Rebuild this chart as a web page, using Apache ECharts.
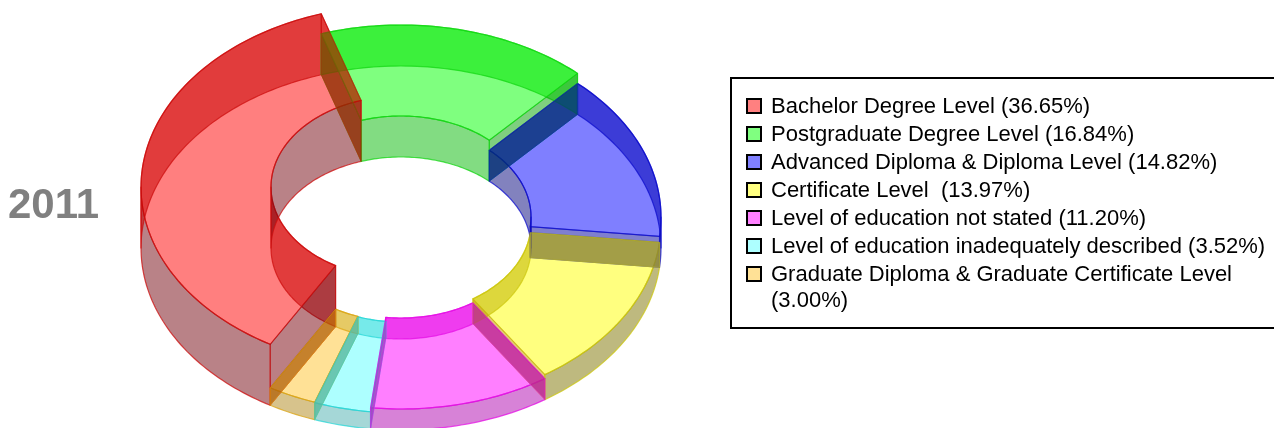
<!DOCTYPE html>
<html>
<head>
<meta charset="utf-8">
<style>html,body{margin:0;padding:0;background:#fff;overflow:hidden}#c{width:1274px;height:428px}</style>
<script src="https://cdn.jsdelivr.net/npm/echarts@6/dist/echarts.min.js"></script>
</head>
<body>
<div id="c"></div>
<script>
const yearLabel = '2011';
const categories = [
  'Bachelor Degree Level',
  'Postgraduate Degree Level',
  'Advanced Diploma & Diploma Level',
  'Certificate Level ',
  'Level of education not stated',
  'Level of education inadequately described',
  'Graduate Diploma & Graduate Certificate Level'
];
const shares = [36.65, 16.84, 14.82, 13.97, 11.20, 3.52, 3.00];

const depthPx = [61, 41, 31, 25, 21, 17, 17.5];
const faceFill = ['rgba(255,0,0,.5)','rgba(0,255,0,.5)','rgba(0,0,255,.5)','rgba(255,255,0,.5)','rgba(255,0,255,.5)','rgba(0,255,255,.32)','rgba(255,195,45,.5)'];
const swatchFill = ['#ff8080','#80ff80','#8080ff','#ffff80','#ff80ff','#adffff','#ffe196'];
const satWall = ['rgba(198,0,0,.53)','rgba(0,227,0,.53)','rgba(0,0,180,.53)','rgba(190,180,0,.53)','rgba(225,0,225,.53)','rgba(70,215,215,.53)','rgba(207,181,58,.53)'];
const dustWall = ['rgba(115,5,15,.5)','rgba(5,185,5,.5)','rgba(5,5,125,.5)','rgba(125,115,0,.5)','rgba(175,5,175,.5)','rgba(75,175,175,.5)','rgba(175,135,25,.5)'];
const sideStart = ['rgba(120,0,10,.5)','rgba(0,160,0,.5)','rgba(0,0,160,.55)','rgba(200,190,0,.5)','rgba(180,0,190,.55)','rgba(60,190,190,.5)','rgba(200,140,0,.5)'];
const sideEnd = ['rgba(200,0,0,.55)','rgba(0,160,0,.5)','rgba(0,0,160,.5)','rgba(200,140,0,.5)','rgba(190,0,190,.5)','rgba(40,200,220,.55)','rgba(210,150,0,.45)'];
const sideOrderStart = [0, 0, 0, 0, 0, -1, -1];
const sideOrderEnd = [10, 0, 0, 0, 0, 0, 0];
const edge = ['rgba(205,15,15,.75)','rgba(20,215,20,.75)','rgba(15,15,205,.75)','rgba(205,200,15,.75)','rgba(230,15,230,.75)','rgba(40,215,215,.75)','rgba(220,165,20,.75)'];
const CX = 401, CY = 248, RX = 260, RY = 182, HOLE = 0.5, START = 120.2;

const total = shares.reduce((a, b) => a + b, 0);
function range(i) {
  let s = START;
  for (let k = 0; k < i; k++) s += shares[k] / total * 360;
  return [s, s + shares[i] / total * 360];
}
function pt(deg, r, z) {
  const t = deg * Math.PI / 180;
  return [CX + RX * r * Math.cos(t), CY + RY * r * Math.sin(t) - z];
}
function arc(a0, a1, r, z) {
  const n = Math.max(2, Math.ceil(Math.abs(a1 - a0) / 1.2));
  const out = [];
  for (let k = 0; k <= n; k++) out.push(pt(a0 + (a1 - a0) * k / n, r, z));
  return out;
}
function pieces(a0, a1) {
  const cuts = [180, 360];
  const marks = [a0];
  cuts.forEach(c => { if (c > a0 && c < a1) marks.push(c); });
  marks.push(a1);
  const res = [];
  for (let k = 0; k + 1 < marks.length; k++) {
    const mid = (marks[k] + marks[k + 1]) / 2 % 360;
    res.push({ a: marks[k], b: marks[k + 1], back: mid > 180 });
  }
  return res;
}
const poly = (points, fill, stroke, w, z2) => ({
  type: 'polygon', shape: { points }, z2: z2 || 0,
  style: { fill, stroke: stroke || 'none', lineWidth: w === undefined ? 1.2 : w, lineJoin: 'round' },
  silent: true
});

function renderFace(params) {
  const i = params.dataIndex, [a, b] = range(i), h = depthPx[i];
  const pts = arc(a, b, 1, h).concat(arc(b, a, HOLE, h));
  return poly(pts, faceFill[i], edge[i]);
}
function renderWalls(params) {
  const i = params.dataIndex, [a, b] = range(i), h = depthPx[i];
  const children = [];
  pieces(a, b).forEach(p => {
    children.push(poly(arc(p.a, p.b, 1, h).concat(arc(p.b, p.a, 1, 0)), p.back ? satWall[i] : dustWall[i], edge[i]));
    children.push(poly(arc(p.a, p.b, HOLE, h).concat(arc(p.b, p.a, HOLE, 0)), p.back ? dustWall[i] : satWall[i], edge[i]));
  });
  return { type: 'group', children };
}
function renderSides(params) {
  const i = params.dataIndex, [a, b] = range(i), h = depthPx[i];
  const quad = d => [pt(d, 1, h), pt(d, HOLE, h), pt(d, HOLE, 0), pt(d, 1, 0)];
  return { type: 'group', children: [
    poly(quad(a), sideStart[i], edge[i], 0.8, sideOrderStart[i]),
    poly(quad(b), sideEnd[i], edge[i], 0.8, sideOrderEnd[i])
  ]};
}

const FONT = '"Liberation Sans", Arial, sans-serif';
const legendGraphic = [{
  type: 'rect', shape: { x: 731, y: 78, width: 600, height: 250 },
  style: { fill: '#fff', stroke: '#000', lineWidth: 2 }, z: 1
}];
categories.forEach((name, i) => {
  const y = 106 + i * 28;
  const pct = '(' + shares[i].toFixed(2) + '%)';
  const label = name + (i === categories.length - 1 ? '\n' : ' ') + pct;
  legendGraphic.push({
    type: 'rect', shape: { x: 747, y: y - 7, width: 14, height: 14 },
    style: { fill: swatchFill[i], stroke: '#000', lineWidth: 2 }, z: 2
  });
  legendGraphic.push({
    type: 'text', x: 771, y: y - 12,
    style: { text: label, font: '22px ' + FONT, fill: '#000', lineHeight: 26, verticalAlign: 'top' }, z: 2
  });
});

const chart = echarts.init(document.getElementById('c'), null, { renderer: 'canvas' });
chart.setOption({
  animation: false,
  backgroundColor: '#fff',
  title: {
    text: yearLabel, left: 8, top: 185, padding: 0,
    textStyle: { fontSize: 42, fontWeight: 'bold', color: '#808080', fontFamily: FONT }
  },
  graphic: legendGraphic,
  series: [
    { type: 'custom', name: 'faces', coordinateSystem: 'none', renderItem: renderFace, data: shares, silent: true, z: 2 },
    { type: 'custom', name: 'walls', coordinateSystem: 'none', renderItem: renderWalls, data: shares, silent: true, z: 3 },
    { type: 'custom', name: 'sides', coordinateSystem: 'none', renderItem: renderSides, data: shares, silent: true, z: 4 }
  ]
});
</script>
</body>
</html>
